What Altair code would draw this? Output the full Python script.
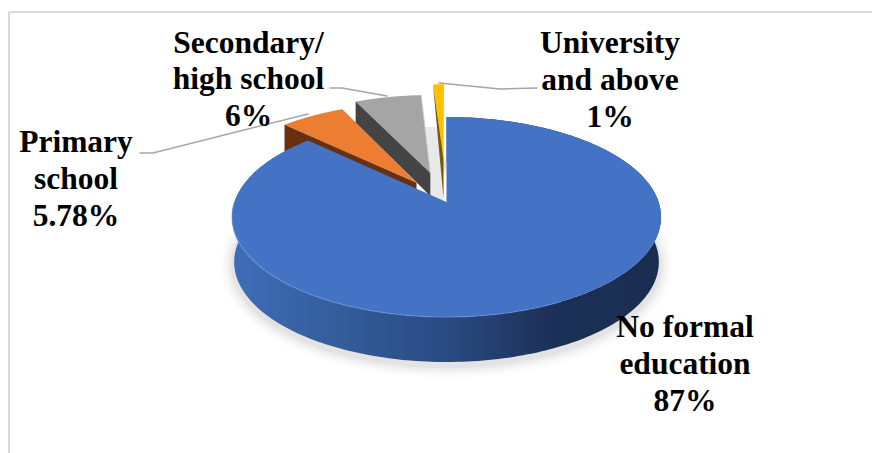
import math
import altair as alt
import pandas as pd

# Education shares, clockwise from twelve o'clock
categories = ["No formal education", "Primary school", "Secondary/high school", "University and above"]
shares = [87, 5.78, 6, 1]
value_labels = ["87%", "5.78%", "6%", "1%"]
name_lines = [["No formal", "education"], ["Primary", "school"], ["Secondary/", "high school"], ["University", "and above"]]

# Exploded distance of each slice, as a fraction of the radius
explode = [0.0, 0.25, 0.32, 0.47]
# Visible height of each slice's cut face at its outer corner and at its tip
cut_depth = [(0, 0), (35, 35), (21, 23), (0, 40)]
top_colors = ["#4472c4", "#ed7d31", "#a5a5a5", "#ffc000"]
cut_colors = ["#2f5597", "#673111", "#444444", "#7a5c00"]

# Drawing geometry: ellipse centre and radii, camera tilt, extrusion
W, H = 872, 453
CX, CY, RX, RY = 446.5, 217.0, 214.5, 100.0
TILT = 0.15
RIM = 45.0


def project(u, v):
    """Perspective map of the pie's disc to the tilted ellipse."""
    d = 1 + TILT * v
    return u * math.sqrt(1 - TILT ** 2) / d, (v + TILT) / d


def px_x(x):
    return (x - CX) / RX


def px_y(y):
    return (CY - y) / RY


def polygon(points):
    return pd.DataFrame([{"x": x, "y": y, "i": i} for i, (x, y) in enumerate(points)])


x_scale = alt.Scale(domain=[px_x(0), px_x(W)], range=[0, W], nice=False, zero=False)
y_scale = alt.Scale(domain=[px_y(H), px_y(0)], range=[H, 0], nice=False, zero=False)


def encode(chart):
    return chart.encode(
        x=alt.X("x:Q", scale=x_scale, axis=None),
        y=alt.Y("y:Q", scale=y_scale, axis=None),
        order=alt.Order("i:Q"),
    )


def filled(points, fill):
    return encode(alt.Chart(polygon(points)).mark_line(fill=fill, stroke="transparent", strokeWidth=0))


def stroked(points, color, width, opacity=1.0):
    return encode(alt.Chart(polygon(points)).mark_line(
        stroke=color, strokeWidth=width, strokeOpacity=opacity, strokeCap="round", strokeJoin="round"))


# Convert the shares to slice angles
total = sum(shares)
starts, ends = [], []
angle = 0.0
for s in shares:
    starts.append(angle)
    angle += 360.0 * s / total
    ends.append(angle)


def slice_points(i, n=90):
    a0, a1 = math.radians(starts[i]), math.radians(ends[i])
    mid = (a0 + a1) / 2
    ox, oy = explode[i] * math.sin(mid), explode[i] * math.cos(mid)
    tip = project(ox, oy)
    arc = []
    for k in range(n + 1):
        a = a0 + (a1 - a0) * k / n
        arc.append(project(math.sin(a) + ox, math.cos(a) + oy))
    return tip, arc


layers = []

# Frame along the top and left edges
layers.append(alt.Chart(pd.DataFrame({"a": [0]})).mark_rule(color="#d9d9d9", strokeWidth=2).encode(
    x=alt.value(9), x2=alt.value(W), y=alt.value(12)))
layers.append(alt.Chart(pd.DataFrame({"a": [0]})).mark_rule(color="#d9d9d9", strokeWidth=2).encode(
    x=alt.value(9), y=alt.value(12), y2=alt.value(H)))

main_tip, main_arc = slice_points(0, 260)
down = [(x * 0.99, y - RIM / RY) for x, y in main_arc]

# Soft shadow under the disc
for width, opacity in [(26, 0.025), (21, 0.03), (16, 0.04), (11, 0.05), (6, 0.07)]:
    layers.append(stroked([(x, y - 0.03) for x, y in down], "#777777", width, opacity))

# Pale shadow behind the university slice
layers.append(filled([(px_x(425), px_y(127)), (px_x(443), px_y(127)),
                      (px_x(443), px_y(205)), (px_x(425), px_y(205))], "#e9e9e9"))

# Exploded slices: cut face first, top face over it
for i in [1, 2, 3]:
    tip, arc = slice_points(i)
    corner = arc[0]
    d_corner, d_tip = cut_depth[i]
    face = [corner, tip, (tip[0], tip[1] - d_tip / RY), (corner[0], corner[1] - d_corner / RY)]
    layers.append(filled(arc + [tip], top_colors[i]))
    layers.append(filled(face, cut_colors[i]))
    # Lit edge along the grey slice's right side
    if i == 2:
        layers.append(stroked([tip, arc[-1]], "#cfcfcf", 1.2, 0.8))

# Main slice: shaded rim, then the flat top face
side_fill = alt.Gradient(
    gradient="linear", x1=0, x2=1, y1=0, y2=0,
    stops=[
        alt.GradientStop(color="#3f6db8", offset=0),
        alt.GradientStop(color="#35609f", offset=0.2),
        alt.GradientStop(color="#2a4a82", offset=0.5),
        alt.GradientStop(color="#1c3057", offset=0.75),
        alt.GradientStop(color="#1a2d50", offset=1),
    ],
)
layers.append(filled(main_arc + down[::-1], side_fill))
layers.append(filled([main_tip] + main_arc, top_colors[0]))
front = [p for p in main_arc if p[1] < 0.15 and p[0] < 0.55]
layers.append(stroked(front, "#6f98e0", 1.4, 0.45))

# Leader lines from the labels to their slices
leaders = [
    [(140, 153), (153, 153), (308, 114)],
    [(330, 88), (342, 88), (387, 96)],
    [(439, 83), (500, 89), (537, 88)],
]
for path in leaders:
    layers.append(stroked([(px_x(x), px_y(y)) for x, y in path], "#a6a6a6", 1.5))

# Category labels, anchored on the centre of their first line
label_anchor = [(685, 328), (76, 143), (248.5, 43.5), (610, 44)]
label_rows = [
    {"x": px_x(ax), "y": px_y(ay), "label": "\n".join(lines + [val])}
    for lines, val, (ax, ay) in zip(name_lines, value_labels, label_anchor)
]
layers.append(
    alt.Chart(pd.DataFrame(label_rows)).mark_text(
        font="Liberation Serif", fontWeight="bold", fontSize=31.5, lineHeight=36.8,
        lineBreak="\n", align="center", baseline="middle", color="#000000",
    ).encode(
        x=alt.X("x:Q", scale=x_scale, axis=None),
        y=alt.Y("y:Q", scale=y_scale, axis=None),
        text="label:N",
    )
)

chart = alt.layer(*layers).properties(
    width=W, height=H, padding=0, background="#ffffff",
    autosize=alt.AutoSizeParams(type="none"),
).configure_view(stroke=None)

chart.save("out.html", embed_options={"renderer": "svg", "actions": False})
